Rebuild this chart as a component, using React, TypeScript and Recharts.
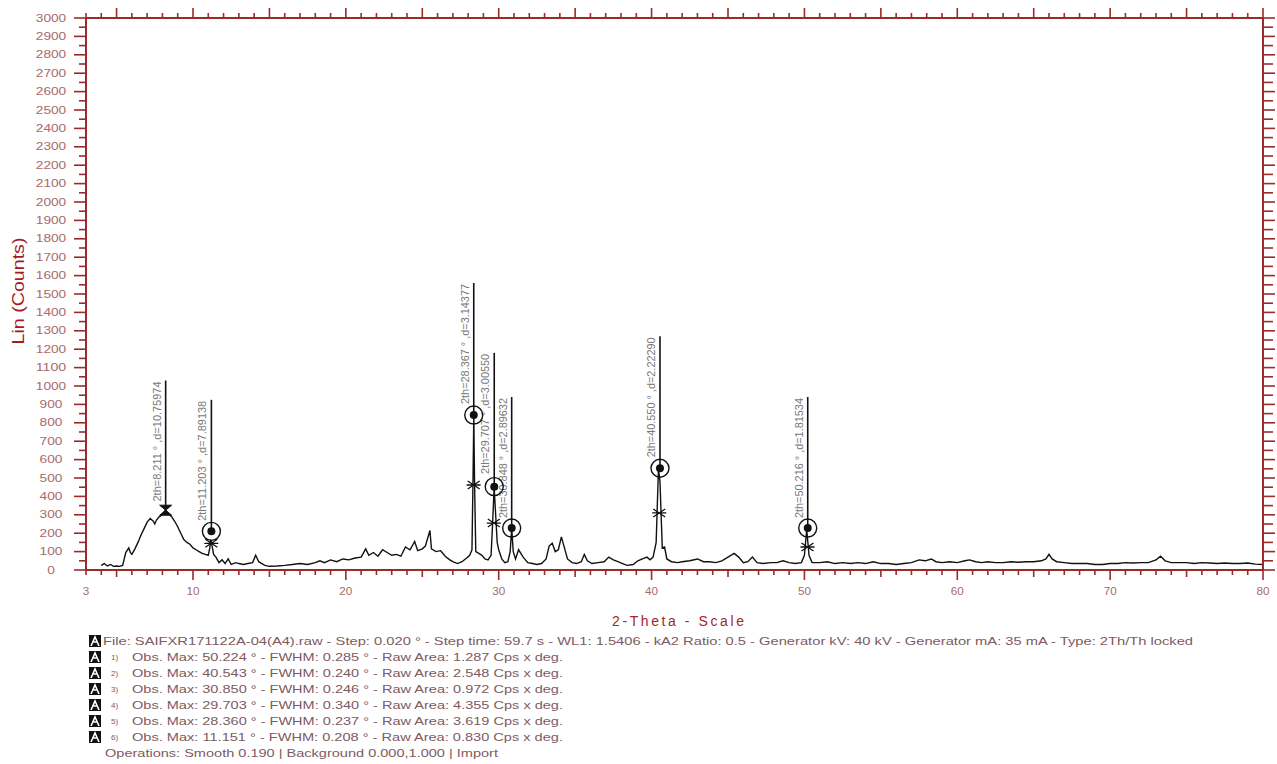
import { ComposedChart, Line, Scatter, XAxis, YAxis, ReferenceLine } from "recharts"

const AXIS = "#9b2a2a"
const TICK_TEXT = "#a86a6a"
const INFO_TEXT = "#7e5a5f"
const FONT = "'Liberation Sans', Arial, sans-serif"

// scan: 2-theta (deg) and counts
const twoTheta = [
  4.0, 4.2, 4.4, 4.6, 4.8, 5.0, 5.2, 5.4, 5.6, 5.8,
  5.9, 6.0, 6.2, 6.4, 6.6, 6.8, 7.0, 7.2, 7.4, 7.5,
  7.6, 7.8, 8.0, 8.2, 8.4, 8.6, 8.8, 9.0, 9.2, 9.4,
  9.6, 9.8, 10.0, 10.2, 10.4, 10.6, 10.8, 11.0, 11.1, 11.17,
  11.25, 11.35, 11.5, 11.7, 11.9, 12.1, 12.3, 12.5, 12.8, 13.0,
  13.3, 13.6, 13.9, 14.1, 14.3, 14.5, 14.7, 15.0, 15.5, 16.0,
  16.5, 17.0, 17.5, 18.0, 18.3, 18.6, 19.0, 19.4, 19.8, 20.2,
  20.6, 21.0, 21.3, 21.5, 21.8, 22.1, 22.4, 22.7, 23.0, 23.3,
  23.6, 23.9, 24.2, 24.5, 24.7, 25.0, 25.2, 25.5, 25.6, 25.9,
  26.2, 26.5, 26.8, 27.0, 27.3, 27.6, 27.9, 28.1, 28.25, 28.32,
  28.37, 28.42, 28.5, 28.7, 28.9, 29.1, 29.3, 29.5, 29.6, 29.7,
  29.8, 29.9, 30.0, 30.2, 30.4, 30.6, 30.75, 30.85, 30.95, 31.1,
  31.3, 31.6, 31.9, 32.2, 32.5, 32.8, 33.1, 33.3, 33.5, 33.7,
  33.9, 34.1, 34.3, 34.5, 34.8, 35.1, 35.4, 35.6, 35.8, 36.1,
  36.5, 36.9, 37.2, 37.5, 37.8, 38.1, 38.4, 38.8, 39.1, 39.4,
  39.7, 39.9, 40.1, 40.3, 40.45, 40.55, 40.7, 40.85, 41.0, 41.3,
  41.7, 42.0, 42.5, 43.0, 43.4, 43.8, 44.2, 44.6, 45.0, 45.4,
  45.7, 46.0, 46.3, 46.6, 46.9, 47.3, 47.8, 48.2, 48.6, 49.0,
  49.4, 49.8, 50.0, 50.15, 50.3, 50.5, 51.0, 51.5, 52.0, 52.5,
  53.0, 53.5, 54.0, 54.5, 55.0, 55.5, 56.0, 56.5, 57.0, 57.5,
  57.9, 58.3, 58.6, 59.0, 59.5, 60.0, 60.5, 60.8, 61.2, 61.6,
  62.0, 62.5, 63.0, 63.5, 64.0, 64.5, 65.0, 65.5, 65.8, 66.0,
  66.2, 66.5, 67.0, 67.5, 68.0, 68.5, 69.0, 69.5, 70.0, 70.5,
  71.0, 71.5, 72.0, 72.5, 73.0, 73.3, 73.6, 74.0, 74.5, 75.0,
  75.5, 76.0, 76.5, 77.0, 77.5, 78.0, 78.5, 79.0, 79.5, 80.0,
]
const counts = [
  25, 35, 22, 30, 20, 22, 20, 25, 95, 120,
  95, 85, 115, 150, 190, 225, 260, 280, 265, 250,
  270, 290, 300, 325, 305, 290, 265, 235, 200, 165,
  150, 140, 120, 110, 100, 90, 85, 80, 120, 165,
  130, 85, 70, 40, 55, 35, 60, 30, 40, 35,
  30, 35, 40, 80, 45, 35, 25, 20, 22, 25,
  30, 35, 30, 40, 50, 40, 55, 45, 60, 55,
  65, 70, 115, 80, 95, 75, 110, 95, 80, 85,
  75, 125, 110, 155, 105, 115, 130, 215, 115, 100,
  105, 75, 55, 45, 35, 45, 65, 80, 110, 500,
  840, 470, 100, 90, 80, 60, 55, 80, 250, 450,
  300, 150, 110, 60, 40, 45, 100, 225, 100, 60,
  110, 70, 40, 35, 30, 35, 60, 130, 145, 100,
  110, 180, 120, 60, 40, 35, 45, 85, 50, 35,
  40, 45, 70, 55, 45, 35, 25, 30, 50, 60,
  70, 55, 70, 150, 550, 480, 120, 125, 60, 45,
  40, 45, 50, 60, 45, 45, 40, 50, 70, 90,
  70, 40, 45, 70, 40, 35, 40, 40, 50, 40,
  35, 40, 80, 220, 80, 40, 40, 45, 35, 40,
  35, 40, 35, 45, 35, 35, 30, 35, 40, 55,
  50, 60, 45, 40, 45, 40, 50, 55, 45, 40,
  45, 40, 40, 45, 42, 45, 45, 50, 60, 85,
  60, 45, 40, 35, 35, 35, 30, 30, 35, 35,
  40, 38, 40, 40, 55, 75, 50, 40, 40, 40,
  35, 40, 38, 35, 38, 35, 35, 38, 32, 30,
]

// identified peaks
const peakPos = [8.211, 11.203, 28.367, 29.707, 30.848, 40.55, 50.216]
const peakD = ["10.75974", "7.89138", "3.14377", "3.00550", "2.89632", "2.22290", "1.81534"]
const peakLabelPos = ["8.211", "11.203", "28.367", "29.707", "30.848", "40.550", "50.216"]
const peakMarkerY = [325, 210, 842, 453, 228, 553, 228]
const peakStickTop = [1030, 925, 1560, 1180, 940, 1270, 940]

// half-height cross marks
const crossPos = [11.2, 28.36, 29.68, 40.5, 50.2]
const crossY = [145, 462, 255, 310, 125]

const fileLine =
  "File: SAIFXR171122A-04(A4).raw - Step: 0.020 ° - Step time: 59.7 s - WL1: 1.5406 - kA2 Ratio: 0.5 - Generator kV: 40 kV - Generator mA: 35 mA - Type: 2Th/Th locked"
const peakNumbers = ["1)", "2)", "3)", "4)", "5)", "6)"]
const peakLines = [
  "Obs. Max: 50.224 ° - FWHM: 0.285 ° - Raw Area: 1.287 Cps x deg.",
  "Obs. Max: 40.543 ° - FWHM: 0.240 ° - Raw Area: 2.548 Cps x deg.",
  "Obs. Max: 30.850 ° - FWHM: 0.246 ° - Raw Area: 0.972 Cps x deg.",
  "Obs. Max: 29.703 ° - FWHM: 0.340 ° - Raw Area: 4.355 Cps x deg.",
  "Obs. Max: 28.360 ° - FWHM: 0.237 ° - Raw Area: 3.619 Cps x deg.",
  "Obs. Max: 11.151 ° - FWHM: 0.208 ° - Raw Area: 0.830 Cps x deg.",
]
const operationsLine = "Operations: Smooth 0.190 | Background 0.000,1.000 | Import"

const scan = twoTheta.map((x, i) => ({ x, y: counts[i] }))
const circles = peakPos.slice(1).map((x, i) => ({ x, y: peakMarkerY[i + 1] }))
const bowtie = [{ x: peakPos[0], y: peakMarkerY[0] }]
const crosses = crossPos.map((x, i) => ({ x, y: crossY[i] }))

const xTicks = Array.from({ length: 78 }, (_, i) => 3 + i)
const yTicks = Array.from({ length: 61 }, (_, i) => i * 50)

function BottomTick({ x, y, payload }: any) {
  const v = payload.value
  const len = v % 10 === 0 ? 10 : v % 5 === 0 ? 7 : 5
  return (
    <g>
      <line x1={x} x2={x} y1={y} y2={y + len} stroke={AXIS} strokeWidth={1.6} />
      {(v === 3 || v % 10 === 0) && (
        <text x={x} y={y + 25} textAnchor="middle" fontSize={10} fill={TICK_TEXT} fontFamily={FONT}
          textLength={String(v).length * 6.5} lengthAdjust="spacingAndGlyphs">{v}</text>
      )}
    </g>
  )
}

function TopTick({ x, y, payload }: any) {
  const v = payload.value
  const len = v % 5 === 0 ? 10 : 5
  return <line x1={x} x2={x} y1={y} y2={y - len} stroke={AXIS} strokeWidth={1.6} />
}

function LeftTick({ x, y, payload }: any) {
  const v = payload.value
  const major = v % 100 === 0
  const s = String(v)
  return (
    <g>
      <line x1={x - (major ? 12 : 7)} x2={x} y1={y} y2={y} stroke={AXIS} strokeWidth={1.6} />
      {major && (
        <text x={x - 35} y={y + 3.5} textAnchor="middle" fontSize={10} fill={TICK_TEXT} fontFamily={FONT}
          textLength={s.length * 7.6} lengthAdjust="spacingAndGlyphs">{s}</text>
      )}
    </g>
  )
}

function RightTick({ x, y, payload }: any) {
  const len = payload.value % 100 === 0 ? 12 : 10
  return <line x1={x} x2={x + len} y1={y} y2={y} stroke={AXIS} strokeWidth={1.6} />
}

const peakLabel = (text: string) => (props: any) => {
  const vb = props.viewBox
  const ax = vb.x - 5
  const ay = vb.y + 1
  return (
    <text x={ax} y={ay} transform={`rotate(-90 ${ax} ${ay})`} textAnchor="end" fontSize={10}
      fill="#777" fontFamily={FONT} textLength={120} lengthAdjust="spacingAndGlyphs">{text}</text>
  )
}

const CircleMarker = (props: any) => (
  <g>
    <circle cx={props.cx} cy={props.cy} r={9} fill="none" stroke="#111" strokeWidth={1.4} />
    <circle cx={props.cx} cy={props.cy} r={4} fill="#111" />
  </g>
)

const BowtieMarker = (props: any) => {
  const { cx, cy } = props
  return <path d={`M${cx - 6},${cy - 5} L${cx + 6},${cy - 5} L${cx - 6},${cy + 5} L${cx + 6},${cy + 5} Z`} fill="#111" stroke="#111" />
}

const CrossMarker = (props: any) => {
  const { cx, cy } = props
  return <path d={`M${cx - 6},${cy - 4} L${cx + 6},${cy + 4} M${cx - 6},${cy + 4} L${cx + 6},${cy - 4} M${cx - 7},${cy} L${cx + 7},${cy}`} stroke="#111" strokeWidth={1.3} fill="none" />
}

function InfoIcon({ y }: { y: number }) {
  return (
    <g>
      <rect x={89} y={y - 6} width={12} height={12} fill="#111" />
      <path d={`M91,${y + 5} L95,${y - 4} L99,${y + 5} M92.5,${y + 1} L97.5,${y + 1}`} stroke="#fff" strokeWidth={1.6} fill="none" />
    </g>
  )
}

export default function App() {
  return (
    <div style={{ position: "absolute", left: 0, top: 0, width: 1277, height: 764, background: "#fff" }}>
      <ComposedChart width={1277} height={640} margin={{ top: 1, right: 0, bottom: 30, left: 16 }}>
        <XAxis dataKey="x" type="number" domain={[3, 80]} ticks={xTicks} interval={0} allowDataOverflow
          height={40} tickSize={0} tickMargin={0} tickLine={false}
          axisLine={{ stroke: AXIS, strokeWidth: 2 }} tick={(p: any) => <BottomTick {...p} />} />
        <XAxis xAxisId="top" orientation="top" dataKey="x" type="number" domain={[3, 80]} ticks={xTicks} interval={0}
          allowDataOverflow height={17} tickSize={0} tickMargin={0} tickLine={false}
          axisLine={{ stroke: AXIS, strokeWidth: 2 }} tick={(p: any) => <TopTick {...p} />} />
        <YAxis type="number" domain={[0, 3000]} ticks={yTicks} interval={0} allowDataOverflow width={70}
          tickSize={0} tickMargin={0} tickLine={false}
          axisLine={{ stroke: AXIS, strokeWidth: 2 }} tick={(p: any) => <LeftTick {...p} />} />
        <YAxis yAxisId="right" orientation="right" type="number" domain={[0, 3000]} ticks={yTicks} interval={0}
          allowDataOverflow width={14} tickSize={0} tickMargin={0} tickLine={false}
          axisLine={{ stroke: AXIS, strokeWidth: 2 }} tick={(p: any) => <RightTick {...p} />} />

        {peakPos.map((p, i) => (
          <ReferenceLine key={p}
            segment={[{ x: p, y: peakMarkerY[i] }, { x: p, y: peakStickTop[i] }]}
            stroke="#111" strokeWidth={1.6}
            label={peakLabel(`2th=${peakLabelPos[i]} ° ,d=${peakD[i]}`)} />
        ))}

        <Line data={scan} dataKey="y" type="linear" stroke="#111" strokeWidth={1.4} dot={false}
          isAnimationActive={false} />
        <Scatter data={circles} dataKey="y" shape={CircleMarker} isAnimationActive={false} />
        <Scatter data={bowtie} dataKey="y" shape={BowtieMarker} isAnimationActive={false} />
        <Scatter data={crosses} dataKey="y" shape={CrossMarker} isAnimationActive={false} />
      </ComposedChart>

      <svg width={1277} height={764} style={{ position: "absolute", left: 0, top: 0, pointerEvents: "none" }}>
        <text x={24} y={291} transform="rotate(-90 24 291)" textAnchor="middle" fontSize={17} fill="#a31c1f"
          fontFamily={FONT} textLength={107} lengthAdjust="spacingAndGlyphs">Lin (Counts)</text>
        <text x={679} y={626} textAnchor="middle" fontSize={14} fill="#a3262a" fontFamily={FONT}
          textLength={134} lengthAdjust="spacing" letterSpacing={2}>2-Theta - Scale</text>

        <InfoIcon y={641} />
        <text x={103} y={645} fontSize={11} fill={INFO_TEXT} fontFamily={FONT}
          textLength={1090} lengthAdjust="spacingAndGlyphs">{fileLine}</text>

        {peakLines.map((t, i) => {
          const cy = 657 + i * 16
          return (
            <g key={i}>
              <InfoIcon y={cy} />
              <text x={111} y={cy + 3} fontSize={8} fill={INFO_TEXT} fontFamily={FONT}>{peakNumbers[i]}</text>
              <text x={132} y={cy + 4} fontSize={11} fill={INFO_TEXT} fontFamily={FONT}
                textLength={431} lengthAdjust="spacingAndGlyphs">{t}</text>
            </g>
          )
        })}
        <text x={105} y={757} fontSize={11} fill={INFO_TEXT} fontFamily={FONT}
          textLength={393} lengthAdjust="spacingAndGlyphs">{operationsLine}</text>
      </svg>
    </div>
  )
}
